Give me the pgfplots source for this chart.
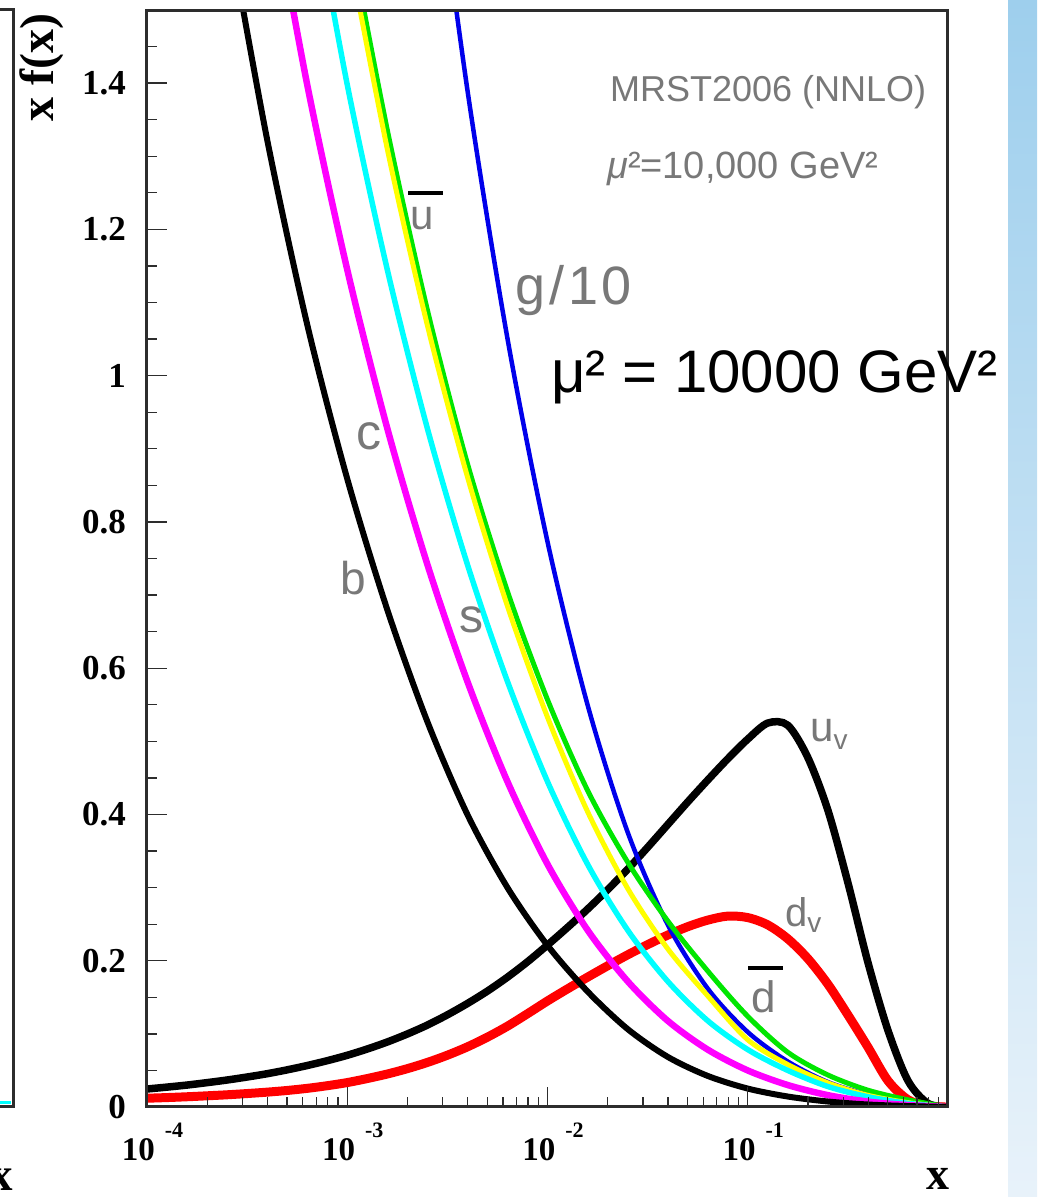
\documentclass[border=0pt]{standalone}
\usepackage{fontspec}
\setmainfont{Liberation Serif}
\newfontfamily\lsans{Liberation Sans}
\usepackage{pgfplots}
\pgfplotsset{compat=1.18}
\definecolor{frame}{RGB}{45,45,45}
\definecolor{lbl}{RGB}{120,120,120}
\definecolor{mygreen}{RGB}{0,230,0}
\definecolor{myblue}{RGB}{0,0,235}
\definecolor{mymag}{RGB}{255,0,255}
\definecolor{mycyan}{RGB}{0,255,255}
\definecolor{myyellow}{RGB}{255,255,0}
\definecolor{bgtop}{RGB}{158,207,237}
\definecolor{bgbot}{RGB}{232,242,250}
\newcommand{\fs}[1]{\fontsize{#1}{#1}\selectfont}
\newcommand{\xl}[1]{\fs{33}\textbf{10}\hspace{10pt}\raisebox{23pt}{\fs{22}\textbf{#1}}}

\begin{document}
\begin{tikzpicture}
\path[use as bounding box] (0,0) rectangle (1037pt,1197pt);
\fill[white] (0,0) rectangle (1037pt,1197pt);
\shade[top color=bgtop, bottom color=bgbot] (1008pt,0pt) rectangle (1037pt,1197pt);
% left partial panel
\draw[frame, line width=3pt] (-5pt,1187pt) -- (13pt,1187pt) -- (13pt,90pt) -- (-5pt,90pt);
\draw[mycyan, line width=3pt] (0pt,94pt) -- (11pt,94pt);
\node[anchor=base east, inner sep=0pt, font=\bfseries\fs{47}] at (13pt,6pt) {x};

\begin{axis}[at={(147pt,90pt)}, anchor=south west, scale only axis,
  width=801pt, height=1097pt,
  xmode=log, xmin=1e-4, xmax=1, ymin=0, ymax=1.5,
  axis on top, clip=true,
  axis line style={draw=frame, line width=3pt},
  tick style={draw=frame, line width=1.3pt},
  tick align=inside, tick pos=left,
  major tick length=20pt, minor tick length=10pt,
  xtick={1e-4,1e-3,1e-2,1e-1},
  xticklabels={\xl{-4},\xl{-3},\xl{-2},\xl{-1}},
  minor xtick={2e-4,3e-4,4e-4,5e-4,6e-4,7e-4,8e-4,9e-4,
    2e-3,3e-3,4e-3,5e-3,6e-3,7e-3,8e-3,9e-3,
    0.02,0.03,0.04,0.05,0.06,0.07,0.08,0.09,
    0.2,0.3,0.4,0.5,0.6,0.7,0.8,0.9},
  ytick={0,0.2,0.4,0.6,0.8,1,1.2,1.4},
  yticklabels={0,0.2,0.4,0.6,0.8,1,1.2,1.4},
  minor ytick={0.05,0.1,0.15,0.25,0.3,0.35,0.45,0.5,0.55,0.65,0.7,0.75,
    0.85,0.9,0.95,1.05,1.1,1.15,1.25,1.3,1.35,1.45},
  yticklabel style={font=\bfseries\fs{35}, inner sep=0pt, xshift=-21pt},
  xticklabel style={inner sep=0pt, anchor=north, yshift=-16pt, xshift=5.5pt},
]
% u valence
\addplot[black, line width=7.5pt, smooth] table {
x y
1e-4 0.0246
1.259e-4 0.0272
1.585e-4 0.0300
1.995e-4 0.0333
2.512e-4 0.0369
3.162e-4 0.0410
3.981e-4 0.0455
5.012e-4 0.0508
6.310e-4 0.0567
7.943e-4 0.0633
1e-3 0.0707
1.259e-3 0.0793
1.585e-3 0.0889
1.995e-3 0.0998
2.512e-3 0.1120
3.162e-3 0.1260
3.981e-3 0.1415
5.012e-3 0.1585
6.310e-3 0.1775
7.943e-3 0.1985
0.01 0.2215
0.01259 0.2455
0.01585 0.2705
0.01995 0.297
0.02512 0.325
0.03162 0.355
0.03981 0.386
0.05012 0.417
0.0631 0.447
0.07943 0.476
0.1 0.503
0.1259 0.525
0.1585 0.522
0.1995 0.478
0.2512 0.406
0.3162 0.307
0.3981 0.198
0.5012 0.105
0.6310 0.036
0.7943 0.005
1 0
};
% d valence
\addplot[red, line width=9pt, smooth] table {
x y
1e-4 0.0120
1.259e-4 0.0129
1.585e-4 0.0140
1.995e-4 0.0153
2.512e-4 0.0167
3.162e-4 0.0184
3.981e-4 0.0203
5.012e-4 0.0226
6.310e-4 0.0255
7.943e-4 0.0291
1e-3 0.0334
1.259e-3 0.0389
1.585e-3 0.0451
1.995e-3 0.0524
2.512e-3 0.0609
3.162e-3 0.0708
3.981e-3 0.0822
5.012e-3 0.0955
6.310e-3 0.1105
7.943e-3 0.1275
0.01 0.145
0.01259 0.1615
0.01585 0.1775
0.01995 0.193
0.02512 0.208
0.03162 0.222
0.03981 0.235
0.05012 0.2465
0.0631 0.2555
0.07943 0.261
0.1 0.259
0.1259 0.249
0.1585 0.230
0.1995 0.203
0.2512 0.168
0.3162 0.126
0.3981 0.082
0.5012 0.036
0.6310 0.010
0.7943 0.0012
1 0
};
% gluon / 10
\addplot[myblue, line width=4.5pt, smooth] table {
x y
2.512e-3 1.80
3.981e-3 1.391
6.310e-3 1.051
0.01 0.773
0.01585 0.550
0.02512 0.376
0.03981 0.2496
0.0631 0.162
0.1 0.1025
0.1585 0.0622
0.2512 0.0341
0.3981 0.017
0.6310 0.0065
1 0
};
% dbar
\addplot[mygreen, line width=5pt, smooth] table {
x y
1e-3 1.62
1.585e-3 1.336
2.512e-3 1.09
3.981e-3 0.88
6.310e-3 0.705
0.01 0.557
0.01585 0.433
0.02512 0.335
0.03981 0.2546
0.0631 0.186
0.1 0.124
0.1585 0.0748
0.2512 0.0438
0.3981 0.023
0.6310 0.0098
1 0
};
% ubar
\addplot[myyellow, line width=5pt, smooth] table {
x y
1e-3 1.592
1.585e-3 1.310
2.512e-3 1.069
3.981e-3 0.862
6.310e-3 0.685
0.01 0.533
0.01585 0.404
0.02512 0.299
0.03981 0.2165
0.0631 0.152
0.1 0.092
0.1585 0.058
0.2512 0.033
0.3981 0.016
0.6310 0.006
1 0
};
% s
\addplot[mycyan, line width=5.5pt, smooth] table {
x y
6.310e-4 1.696
1e-3 1.398
1.585e-3 1.145
2.512e-3 0.928
3.981e-3 0.742
6.310e-3 0.582
0.01 0.445
0.01585 0.332
0.02512 0.242
0.03981 0.172
0.0631 0.118
0.1 0.0785
0.1585 0.050
0.2512 0.028
0.3981 0.014
0.6310 0.005
1 0
};
% c
\addplot[mymag, line width=6.5pt, smooth] table {
x y
3.981e-4 1.696
6.310e-4 1.398
1e-3 1.145
1.585e-3 0.928
2.512e-3 0.742
3.981e-3 0.582
6.310e-3 0.445
0.01 0.332
0.01585 0.242
0.02512 0.172
0.03981 0.118
0.0631 0.0785
0.1 0.050
0.1585 0.030
0.2512 0.0162
0.3981 0.0074
0.6310 0.0026
1 0
};
% b
\addplot[black, line width=6pt, smooth] table {
x y
2.512e-4 1.623
3.981e-4 1.323
6.310e-4 1.070
1e-3 0.859
1.585e-3 0.680
2.512e-3 0.527
3.981e-3 0.400
6.310e-3 0.300
0.01 0.221
0.01585 0.158
0.02512 0.1066
0.03981 0.0686
0.0631 0.0425
0.1 0.0252
0.1585 0.0143
0.2512 0.0075
0.3981 0.0034
0.6310 0.0013
1 0
};
\end{axis}

% axis titles
\node[rotate=90, anchor=base, inner sep=0pt, font=\bfseries\fs{48}] at (53pt,1129.5pt) {x f(x)};
\node[anchor=base, inner sep=0pt, font=\bfseries\fs{46}] at (938pt,8pt) {x};

% in-plot labels
\node[anchor=base west, inner sep=0pt, text=lbl, font=\lsans\fs{36}] at (610pt,1095pt) {MRST2006 (NNLO)};
\node[anchor=base west, inner sep=0pt, text=lbl, font=\lsans\fs{38}] at (607pt,1018pt) {{\itshape μ}²=10,000 GeV²};
\node[anchor=base, inner sep=0pt, text=lbl, font=\lsans\fs{42}] at (422.5pt,967pt) {u};
\draw[black, line width=4pt] (408pt,1004pt) -- (443pt,1004pt);
\node[anchor=base west, inner sep=0pt, text=lbl, font=\lsans\fs{54}] at (515pt,892pt) {g\kern4pt/\kern4pt1\kern3pt0};
\node[anchor=base, inner sep=0pt, text=lbl, font=\lsans\fs{50}] at (369pt,747pt) {c};
\node[anchor=base, inner sep=0pt, text=lbl, font=\lsans\fs{46}] at (353.5pt,602pt) {b};
\node[anchor=base, inner sep=0pt, text=lbl, font=\lsans\fs{48}] at (471pt,564pt) {s};
\node[anchor=base west, inner sep=0pt, text=lbl, font=\lsans\fs{42}] at (810pt,455pt) {u\raisebox{-8pt}{\fs{28}v}};
\node[anchor=base west, inner sep=0pt, text=lbl, font=\lsans\fs{40}] at (785pt,270pt) {d\raisebox{-6pt}{\fs{28}v}};
\node[anchor=base, inner sep=0pt, text=lbl, font=\lsans\fs{44}] at (763.5pt,184pt) {d};
\draw[black, line width=4pt] (748pt,229pt) -- (783pt,229pt);
\node[anchor=base west, inner sep=0pt, text=black, font=\lsans\fs{60}] at (551pt,804pt) {μ² = 10000 GeV²};
\end{tikzpicture}
\end{document}
